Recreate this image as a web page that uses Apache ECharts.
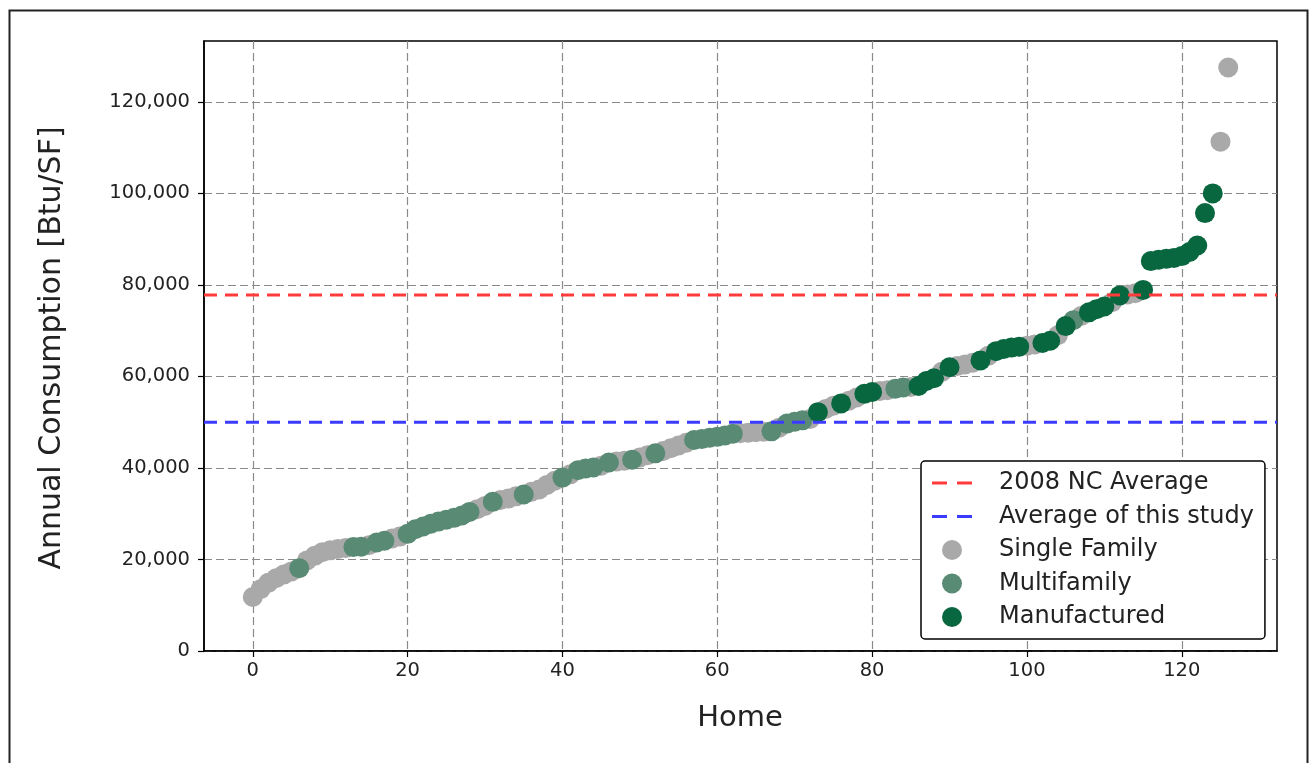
<!DOCTYPE html>
<html>
<head>
<meta charset="utf-8">
<script src="https://cdn.jsdelivr.net/npm/echarts@6/dist/echarts.min.js"></script>
<style>
html,body{margin:0;padding:0;background:#fff;}
#chart{width:1312px;height:763px;}
</style>
</head>
<body>
<div id="chart"></div>
<script>
// Annual consumption per home, sorted ascending (Btu/SF)
const consumption = [
  11800,13500,14900,15900,16700,17400,18100,19800,20800,21600,
  22000,22300,22500,22700,22800,23100,23700,24100,24600,25000,
  25600,26600,27200,27800,28300,28700,29100,29600,30400,31000,
  31700,32600,33000,33300,33800,34200,34800,35300,36300,37200,
  37900,38600,39500,39900,40100,40500,41200,41400,41600,41800,
  42300,42800,43200,43700,44300,44900,45500,46100,46300,46600,
  46800,47100,47500,47600,47700,47800,47900,48000,48800,49700,
  50100,50400,50700,52200,52900,53600,54100,54700,55400,56200,
  56600,56800,57000,57300,57600,57700,57900,59000,59600,61000,
  62000,62300,62600,63000,63500,64500,65500,66000,66300,66500,
  66700,67000,67300,67800,69000,71000,72300,73200,74000,74700,
  75300,76200,77700,77900,78200,78900,85200,85500,85700,85900,
  86300,87200,88600,95700,100000,111300,127500
];
// Home type for each home: S = Single Family, M = Multifamily, F = Manufactured
const homeType = [
  'S','S','S','S','S','S','M','S','S','S',
  'S','S','S','M','M','S','M','M','S','S',
  'M','M','M','M','M','M','M','M','M','S',
  'S','M','S','S','S','M','S','S','S','S',
  'M','S','M','M','M','S','M','S','S','M',
  'S','S','M','S','S','S','S','M','M','M',
  'M','M','M','S','S','S','S','M','S','M',
  'M','M','S','F','S','S','F','S','S','F',
  'F','S','S','M','M','S','F','F','F','S',
  'F','S','S','S','F','S','F','F','F','F',
  'S','S','F','F','S','F','M','S','F','F',
  'F','S','F','S','S','F','F','F','F','F',
  'F','F','F','F','F','S','S'
];
const ncAverage = 77800;      // 2008 NC Average
const studyAverage = 50000;   // Average of this study
const xTicks = [0, 20, 40, 60, 80, 100, 120];
const yTicks = [0, 20000, 40000, 60000, 80000, 100000, 120000];
const xLimits = [-6.3, 132.3];
const yLimits = [0, 133300];

const typeNames = {S: 'Single Family', M: 'Multifamily', F: 'Manufactured'};
const typeColors = {S: '#a9a9a9', M: '#598a74', F: '#09673f'};

function pointsOf(t) {
  const out = [];
  consumption.forEach((v, i) => { if (homeType[i] === t) out.push([i, v]); });
  return out;
}

const FONT = 'DejaVu Sans';
const dashIcon = 'path://M0,0h15v3h-15z M25,0h15v3h-15z';

const chart = echarts.init(document.getElementById('chart'), null, {renderer: 'canvas'});

const scatterSeries = ['S', 'M', 'F'].map((t, k) => ({
  name: typeNames[t],
  type: 'scatter',
  data: pointsOf(t),
  symbol: 'circle',
  symbolSize: 20,
  itemStyle: {color: typeColors[t], opacity: 1},
  z: 3 + k,
  emphasis: {disabled: true},
  animation: false
}));

function avgLine(name, value, color) {
  return {
    name: name,
    type: 'line',
    data: [[xLimits[0], value], [xLimits[1], value]],
    symbol: 'none',
    showSymbol: false,
    lineStyle: {color: color, width: 3, type: [13, 8]},
    itemStyle: {color: color},
    z: 10,
    animation: false,
    silent: true
  };
}

const option = {
  backgroundColor: '#fff',
  animation: false,
  textStyle: {fontFamily: FONT},
  grid: {
    left: 204, top: 41, width: 1073, height: 610,
    show: true, borderColor: '#000', borderWidth: 1.5, backgroundColor: 'transparent'
  },
  xAxis: {
    type: 'value',
    min: xLimits[0], max: xLimits[1],
    axisLine: {show: true, onZero: false, lineStyle: {color: '#000', width: 1.5}},
    axisTick: {show: true, length: 6, inside: false, customValues: xTicks, lineStyle: {color: '#000', width: 1.2}},
    axisLabel: {customValues: xTicks, color: '#222', fontSize: 19.5, fontFamily: FONT, margin: 10},
    splitLine: {show: true, lineStyle: {color: '#8a8a8a', width: 1.2, type: [8, 4]}}
  },
  yAxis: {
    type: 'value',
    min: yLimits[0], max: yLimits[1],
    axisLine: {show: true, onZero: false, lineStyle: {color: '#000', width: 1.5}},
    axisTick: {show: true, length: 6, inside: false, customValues: yTicks, lineStyle: {color: '#000', width: 1.2}},
    axisLabel: {
      customValues: yTicks, color: '#222', fontSize: 19.5, fontFamily: FONT, margin: 14,
      formatter: v => Number(v).toLocaleString('en-US')
    },
    splitLine: {show: true, lineStyle: {color: '#8a8a8a', width: 1.2, type: [8, 4]}}
  },
  legend: {
    orient: 'vertical',
    left: 921, top: 461,
    padding: [10, 11, 10, 11],
    itemGap: 9.5,
    itemWidth: 40, itemHeight: 20,
    backgroundColor: '#fff',
    borderColor: '#000', borderWidth: 1.5, borderRadius: 4,
    textStyle: {fontSize: 24, color: '#222', fontFamily: FONT, padding: [0, 0, 0, 22]},
    selectedMode: false,
    data: [
      {name: '2008 NC Average', icon: dashIcon, itemStyle: {color: '#ff3b3b'}},
      {name: 'Average of this study', icon: dashIcon, itemStyle: {color: '#3b3bff'}},
      {name: 'Single Family', icon: 'circle'},
      {name: 'Multifamily', icon: 'circle'},
      {name: 'Manufactured', icon: 'circle'}
    ],
    z: 20
  },
  graphic: [
    {type: 'rect', left: 7, top: 8, shape: {width: 1298, height: 800},
     style: {fill: 'none', stroke: '#222', lineWidth: 2}, silent: true, z: 0},
    {type: 'text', x: 52, y: 348, rotation: Math.PI / 2,
     style: {text: 'Annual Consumption [Btu/SF]', fontSize: 30, fontFamily: FONT, fill: '#222',
             align: 'center', verticalAlign: 'middle'}},
    {type: 'text', x: 740, y: 718,
     style: {text: 'Home', fontSize: 29, fontFamily: FONT, fill: '#222',
             align: 'center', verticalAlign: 'middle'}}
  ],
  series: [
    avgLine('2008 NC Average', ncAverage, '#ff3b3b'),
    avgLine('Average of this study', studyAverage, '#3b3bff')
  ].concat(scatterSeries)
};

chart.setOption(option);
</script>
</body>
</html>
